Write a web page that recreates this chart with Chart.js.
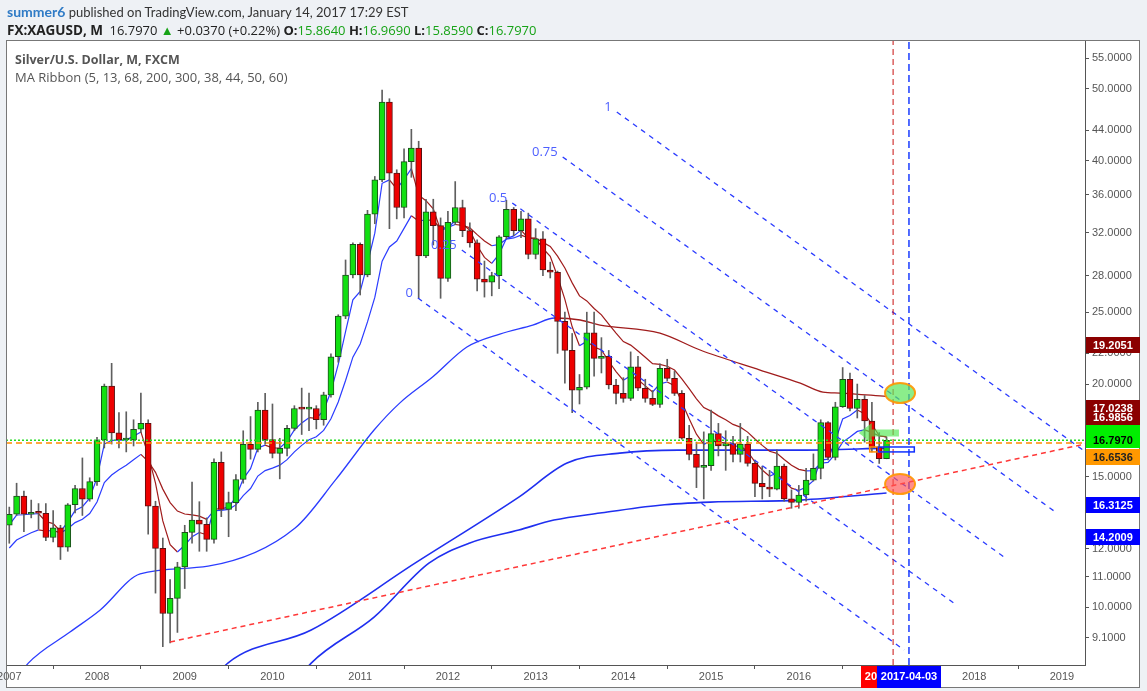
<!DOCTYPE html>
<html>
<head>
<meta charset="utf-8">
<title>XAGUSD monthly</title>
<script src="https://cdn.jsdelivr.net/npm/chart.js@4.4.1/dist/chart.umd.min.js"></script>
<style>
  html, body { margin: 0; padding: 0; background: #eef1f5; }
  #wrap { position: relative; width: 1147px; height: 691px; overflow: hidden; }
  #chart { position: absolute; left: 0; top: 0; }
  .txt { position: absolute; white-space: nowrap; font-family: 'Open Sans', Arial, sans-serif; }
  #line1 { left: 7px; top: 3px; font-size: 13px; color: #333; font-family: Lato, 'Open Sans', sans-serif; }
  #line2 { left: 7px; top: 21px; font-size: 13px; color: #222; }
  #legend1 { left: 15px; top: 51px; font-size: 12.5px; color: #555; font-weight: bold; }
  #legend2 { left: 15px; top: 68px; font-size: 13px; color: #555; }
  .user { color: #2f7bc6; font-weight: bold; font-size: 14px; }
  .sym { font-weight: bold; font-size: 13.5px; margin-right: 3px; }
  .up { color: #17a317; }
</style>
</head>
<body>
<div id="wrap">
  <canvas id="chart" width="1147" height="691"></canvas>
  <div class="txt" id="line1"><span class="user">summer6</span> published on TradingView.com, January 14, 2017 17:29 EST</div>
  <div class="txt" id="line2"><span class="sym">FX:XAGUSD, M</span> 16.7970 <span class="up">&#9650;</span> +0.0370 (+0.22%) <b>O:</b><span class="up">15.8640</span> <b>H:</b><span class="up">16.9690</span> <b>L:</b><span class="up">15.8590</span> <b>C:</b><span class="up">16.7970</span></div>
  <div class="txt" id="legend1">Silver/U.S. Dollar, M, FXCM</div>
  <div class="txt" id="legend2">MA Ribbon (5, 13, 68, 200, 300, 38, 44, 50, 60)</div>
</div>
<script>
// monthly candles, index 0 = Jan 2007
const firstYear = 2007;

const opens = [
  12.90, 13.35, 14.12, 13.35, 13.42, 13.39, 12.42, 12.80, 12.05, 13.75, 14.46, 13.99,
  14.77, 16.81, 19.88, 17.19, 16.81, 16.81, 17.38, 17.70, 13.69, 12.01, 9.81, 10.28,
  11.34, 12.62, 13.11, 12.94, 12.35, 15.68, 13.55, 13.84, 14.87, 16.58, 16.33, 18.45,
  16.83, 16.13, 16.38, 17.43, 18.54, 18.50, 18.54, 17.90, 19.34, 21.77, 24.70, 28.06,
  30.86, 28.06, 33.90, 37.70, 48.00, 38.50, 34.60, 39.90, 41.60, 29.76, 34.15, 32.70,
  27.77, 33.04, 34.60, 32.20, 31.00, 27.70, 27.45, 28.00, 31.60, 34.40, 32.20, 33.40,
  29.90, 31.40, 28.50, 28.30, 24.30, 22.20, 19.63, 19.80, 23.45, 21.66, 21.80, 19.94,
  19.43, 19.13, 21.10, 19.74, 19.13, 18.77, 21.00, 20.36, 19.43, 16.90, 16.08, 15.44,
  15.52, 17.15, 16.51, 16.62, 16.08, 16.60, 15.63, 14.69, 14.53, 14.43, 15.50, 14.00,
  13.85, 14.17, 14.84, 15.39, 17.74, 15.93, 18.64, 20.29, 18.54, 19.07, 17.83, 16.43,
  15.864
];
const highs = [
  13.65, 14.70, 14.35, 13.95, 13.80, 13.80, 13.50, 12.90, 13.80, 14.60, 15.90, 14.95,
  16.95, 20.00, 21.33, 18.30, 18.35, 17.90, 19.45, 17.90, 13.90, 12.40, 10.90, 11.50,
  12.90, 14.75, 13.88, 13.20, 15.85, 16.20, 14.30, 15.10, 17.30, 18.08, 18.90, 19.43,
  18.80, 16.90, 17.60, 18.70, 19.75, 19.45, 18.70, 19.50, 21.97, 24.80, 29.40, 31.00,
  31.00, 34.30, 38.10, 49.80, 48.50, 38.90, 41.50, 44.10, 42.50, 35.50, 35.50, 33.50,
  34.20, 37.50, 35.40, 33.00, 31.30, 29.30, 28.30, 31.70, 35.40, 34.60, 34.20, 34.00,
  32.40, 32.10, 29.20, 28.40, 25.00, 23.40, 20.60, 25.00, 25.00, 23.10, 22.20, 20.30,
  20.40, 22.10, 21.80, 20.30, 19.60, 21.30, 21.60, 20.80, 19.60, 17.60, 16.70, 17.24,
  18.45, 17.70, 17.30, 17.00, 17.70, 17.00, 15.80, 15.50, 15.30, 16.30, 15.60, 14.40,
  14.60, 15.40, 16.10, 17.90, 17.80, 18.90, 21.05, 20.70, 20.00, 19.30, 18.90, 17.20,
  16.969
];
const lows = [
  12.20, 13.30, 12.65, 13.20, 12.75, 12.30, 12.25, 11.60, 11.90, 13.40, 13.30, 13.90,
  14.60, 16.40, 16.60, 16.40, 16.20, 16.50, 17.20, 12.55, 10.45, 8.85, 8.95, 9.25,
  10.60, 12.20, 11.90, 11.90, 12.20, 13.25, 12.45, 13.50, 14.70, 15.84, 16.20, 16.60,
  15.90, 14.90, 16.00, 17.30, 17.10, 17.30, 17.40, 17.60, 19.20, 21.40, 24.50, 27.80,
  26.37, 27.90, 32.90, 37.50, 32.40, 33.40, 33.50, 38.00, 26.10, 29.60, 30.80, 26.10,
  27.50, 32.80, 31.60, 30.60, 26.70, 26.20, 26.30, 26.90, 31.40, 31.70, 31.50, 29.50,
  29.50, 28.00, 27.80, 22.00, 20.05, 18.30, 18.80, 19.70, 20.50, 20.70, 19.70, 18.80,
  18.90, 19.00, 19.60, 18.90, 18.70, 18.60, 20.20, 19.30, 16.85, 15.80, 14.50, 14.00,
  15.30, 16.00, 15.30, 15.70, 15.70, 15.50, 14.10, 14.00, 14.10, 14.40, 13.90, 13.60,
  13.60, 13.90, 14.80, 14.90, 15.80, 15.80, 18.60, 18.40, 18.00, 16.70, 16.20, 15.63,
  15.859
];
const closes = [
  13.35, 14.12, 13.35, 13.42, 13.39, 12.42, 12.80, 12.05, 13.75, 14.46, 13.99, 14.77,
  16.81, 19.88, 17.19, 16.81, 16.85, 17.38, 17.70, 13.69, 12.01, 9.81, 10.28, 11.34,
  12.62, 13.11, 12.94, 12.35, 15.68, 13.55, 13.84, 14.87, 16.58, 16.33, 18.45, 16.83,
  16.13, 16.38, 17.43, 18.54, 18.50, 18.60, 17.90, 19.34, 21.77, 24.70, 28.06, 30.86,
  28.06, 33.90, 37.70, 48.00, 38.50, 34.60, 39.90, 41.60, 29.76, 34.15, 32.70, 27.77,
  33.04, 34.60, 32.20, 31.00, 27.70, 27.45, 28.00, 31.60, 34.40, 32.20, 33.40, 29.90,
  31.40, 28.50, 28.30, 24.30, 22.20, 19.63, 19.80, 23.45, 21.66, 21.80, 19.94, 19.43,
  19.13, 21.10, 19.74, 19.13, 18.77, 21.00, 20.36, 19.43, 16.90, 16.08, 15.44, 15.52,
  17.15, 16.51, 16.62, 16.08, 16.60, 15.63, 14.69, 14.53, 14.43, 15.50, 14.00, 13.85,
  14.17, 14.84, 15.39, 17.74, 15.93, 18.64, 20.29, 18.54, 19.07, 17.83, 16.43, 15.86,
  16.797
];

// ribbon starting levels read at the left edge
const fastSeed = 12.7;
const slowSeed = 11.8;

// slower ribbon lines (month index, price)
const ribbonMonths = [1.7, 2.6, 8.3, 12.4, 17.9, 27.2, 39.1, 44.6, 49.9, 53.4, 57.9, 62.6, 67.1, 71.6, 74.6, 78.1, 80.8, 89.0, 94.5, 102.7, 108.2, 111.3, 113.6, 120];
const ribbonValues = [8.18, 8.41, 9.26, 9.91, 11.09, 11.36, 12.79, 14.84, 17.34, 18.85, 20.44, 22.44, 23.36, 24.02, 24.55, 24.40, 24.02, 23.43, 22.23, 20.89, 20.06, 19.51, 19.45, 19.25];
const ma68Months = [26.8, 29.9, 41.3, 55.5, 69.7, 76.3, 83.5, 91.5, 108.2, 120];
const ma68Values = [7.73, 8.41, 9.32, 11.47, 14.08, 15.65, 16.14, 16.29, 16.29, 16.39];
const ma200Months = [38.4, 41.3, 49.9, 57.4, 63.0, 69.7, 74.5, 80.8, 89.0, 95.9, 108.2, 120];
const ma200Values = [7.73, 8.41, 9.70, 11.47, 12.21, 12.71, 13.11, 13.40, 13.73, 13.86, 13.95, 14.26];

// drawings
const fibLevels = ['0', '0.25', '0.5', '0.75', '1'];
const fibStartMonth = [55.9, 61.9, 68.8, 75.7, 83.1];
const fibStartPrice = [26.12, 30.32, 35.09, 40.48, 46.54];
const fibEndMonth = [122.4, 129.4, 136.5, 143.3, 150.3];
const fibEndPrice = [8.76, 10.10, 11.61, 13.40, 15.40];
const trendMonths = [22.0, 149.2];
const trendPrices = [8.98, 16.77];
const markerMonths = [120.9, 123.07];
const markerDates = ['2016-12-27', '2017-04-03'];
const lastPrice = 16.797;
const supportPrice = 16.6536;
const circleMonth = 121.85;
const circlePrices = [19.45, 14.66];
const arrowMonths = [121.7, 116.2];
const arrowPrice = 17.18;
const boxMonths = [[117.7, 118.9], [118.9, 123.8]];
const boxPrices = [16.2, 16.45];

// price tags on the right scale (value shown, value where it sits)
const tagTexts = ['', '19.2051', '17.0238', '16.9856', '16.7970', '16.6536', '16.3125', '14.2009'];
const tagAt = [17.23, 22.58, 18.58, 18.05, 16.797, 15.94, 13.73, 12.44];

const yearTicks = [2007, 2008, 2009, 2010, 2011, 2012, 2013, 2014, 2015, 2016, 2017, 2018, 2019];
const priceTicks = [9.1, 10, 11, 12, 15, 20, 22, 25, 28, 32, 36, 40, 44, 50, 55];
const monthRange = [-0.45, 147.15];
const priceRange = [8.36, 58.2];

const BLUE = '#2b3cff';
const DARKRED = '#a01c1c';
const tagColors = ['#00ee00', '#8b0000', '#8b0000', '#8b0000', '#00ee00', '#ff9800', '#0000ff', '#0000ff'];
const tagInk = ['#000', '#fff', '#fff', '#fff', '#000', '#222', '#fff', '#fff'];

function ema(values, period, seed) {
  const k = 2 / (period + 1);
  let prev = seed;
  return values.map(v => (prev = prev + k * (v - prev)));
}

const idx = closes.map((c, i) => i);
const isUp = i => closes[i] >= opens[i];
const ema5 = ema(closes, 5, fastSeed);
const ema13 = ema(closes, 13, slowSeed);
const pts = (xs, ys) => xs.map((x, i) => ({ x: x, y: ys[i] }));
const trendColor = s => (s.p1.parsed.y <= s.p0.parsed.y ? DARKRED : BLUE);

function lineSet(data, color, width, dash, order) {
  return {
    type: 'line', data: data, borderColor: color, borderWidth: width,
    borderDash: dash || [], pointRadius: 0, fill: false, order: order
  };
}

const datasets = [
  // candles
  {
    type: 'bar', data: idx.map(i => ({ x: i, y: [lows[i], highs[i]] })),
    backgroundColor: '#5f5f5f', barThickness: 1, grouped: false, order: 4
  },
  {
    type: 'bar', data: idx.map(i => ({ x: i, y: [opens[i], closes[i]] })),
    backgroundColor: c => (isUp(c.dataIndex) ? '#11e011' : '#ee0000'),
    borderColor: c => (isUp(c.dataIndex) ? '#1c4d1c' : '#5a1010'),
    borderWidth: 1, borderSkipped: false, barThickness: 6, minBarLength: 2,
    grouped: false, order: 3
  },
  // MA ribbon
  Object.assign(lineSet(idx.map(i => ({ x: i, y: ema5[i] })), BLUE, 1.2, null, 6), { segment: { borderColor: trendColor } }),
  Object.assign(lineSet(idx.map(i => ({ x: i, y: ema13[i] })), BLUE, 1.2, null, 7), { segment: { borderColor: trendColor } }),
  Object.assign(lineSet(pts(ribbonMonths, ribbonValues), BLUE, 1.3, null, 8), { segment: { borderColor: trendColor }, cubicInterpolationMode: 'monotone' }),
  Object.assign(lineSet(pts(ma68Months, ma68Values), '#1f2ff0', 1.6, null, 8), { cubicInterpolationMode: 'monotone' }),
  Object.assign(lineSet(pts(ma200Months, ma200Values), '#1f2ff0', 1.6, null, 8), { cubicInterpolationMode: 'monotone' }),
  // horizontal levels
  lineSet(pts(monthRange, [lastPrice, lastPrice]), '#22dd22', 1.5, [2, 2], 2),
  lineSet(pts(monthRange, [supportPrice, supportPrice]), '#ff8c00', 1.5, [6, 4], 2),
  // trend line
  lineSet(pts(trendMonths, trendPrices), '#ff3838', 1.5, [5, 4], 1),
  // vertical markers
  lineSet(pts([markerMonths[0], markerMonths[0]], priceRange), '#c81010', 1, [6, 4], 1),
  lineSet(pts([markerMonths[1], markerMonths[1]], priceRange), '#1a3cff', 1.5, [7, 4], 1)
];
// fib channel
fibLevels.forEach((lv, i) => {
  datasets.push(lineSet(pts([fibStartMonth[i], fibEndMonth[i]], [fibStartPrice[i], fibEndPrice[i]]), BLUE, 1.3, [5, 5], 1));
});

const panel = {
  id: 'panel',
  beforeDraw(chart) {
    const c = chart.ctx;
    c.save();
    c.fillStyle = '#ffffff';
    c.fillRect(6, 40, 1134, 648);
    c.restore();
  },
  afterDraw(chart) {
    const c = chart.ctx;
    c.save();
    c.strokeStyle = '#777';
    c.lineWidth = 1;
    c.strokeRect(6.5, 40.5, 1133, 647);
    c.restore();
  }
};

const drawings = {
  id: 'drawings',
  afterDatasetsDraw(chart) {
    const c = chart.ctx, xs = chart.scales.x, ys = chart.scales.y, a = chart.chartArea;
    c.save();
    c.beginPath();
    c.rect(a.left, a.top, a.right - a.left, a.bottom - a.top);
    c.clip();

    // fib labels
    c.font = '13px "Open Sans", Arial, sans-serif';
    c.fillStyle = '#4d5fff';
    c.textAlign = 'right';
    c.textBaseline = 'middle';
    fibLevels.forEach((lv, i) => {
      c.fillText(lv, xs.getPixelForValue(fibStartMonth[i]) - 5, ys.getPixelForValue(fibStartPrice[i]) - 5);
    });

    // boxes
    c.lineWidth = 1.5;
    ['#ff8c00', '#1030ff'].forEach((col, i) => {
      const x0 = xs.getPixelForValue(boxMonths[i][0]), x1 = xs.getPixelForValue(boxMonths[i][1]);
      const y0 = ys.getPixelForValue(boxPrices[1]), y1 = ys.getPixelForValue(boxPrices[0]);
      c.strokeStyle = col;
      c.strokeRect(x0, y0, x1 - x0, y1 - y0);
    });

    // arrow
    const tip = xs.getPixelForValue(arrowMonths[1]), tail = xs.getPixelForValue(arrowMonths[0]);
    const ay = ys.getPixelForValue(arrowPrice);
    c.fillStyle = 'rgba(80, 232, 80, 0.65)';
    c.beginPath();
    c.moveTo(tip, ay);
    c.lineTo(tip + 13, ay - 10);
    c.lineTo(tip + 13, ay - 3.5);
    c.lineTo(tail, ay - 3.5);
    c.lineTo(tail, ay + 3.5);
    c.lineTo(tip + 13, ay + 3.5);
    c.lineTo(tip + 13, ay + 10);
    c.closePath();
    c.fill();

    // ellipses
    const cx = xs.getPixelForValue(circleMonth);
    ['rgba(90, 230, 90, 0.7)', 'rgba(255, 80, 80, 0.65)'].forEach((f, i) => {
      c.beginPath();
      c.ellipse(cx, ys.getPixelForValue(circlePrices[i]), 15, 10, 0, 0, Math.PI * 2);
      c.fillStyle = f;
      c.fill();
      c.lineWidth = 2;
      c.strokeStyle = 'rgba(255, 150, 0, 0.9)';
      c.stroke();
    });
    c.restore();
  },
  afterDraw(chart) {
    const c = chart.ctx, xs = chart.scales.x, ys = chart.scales.y, a = chart.chartArea;
    c.save();
    c.font = 'bold 11px "Liberation Sans", Arial, sans-serif';
    c.textBaseline = 'middle';
    c.textAlign = 'left';
    const tagY = tagAt.map(v => Math.round(ys.getPixelForValue(v)));
    tagTexts.forEach((t, i) => {
      c.fillStyle = tagColors[i];
      c.fillRect(a.right + 1, tagY[i] - 8, 54, 16);
    });
    tagTexts.forEach((t, i) => {
      c.fillStyle = tagInk[i];
      c.fillText(t, a.right + 8, tagY[i] + 0.5);
    });
    c.textAlign = 'center';
    const colors = ['#ff0000', '#0000ff'];
    markerDates.forEach((d, i) => {
      const x = Math.round(xs.getPixelForValue(markerMonths[i]));
      c.fillStyle = colors[i];
      c.fillRect(x - 32, a.bottom + 1, 64, 22);
      c.fillStyle = '#fff';
      c.fillText(d, x, a.bottom + 12);
    });
    c.restore();
  }
};

new Chart(document.getElementById('chart'), {
  type: 'bar',
  data: { datasets: datasets },
  options: {
    responsive: false,
    animation: false,
    devicePixelRatio: 1,
    layout: { padding: { left: 6, top: 40, right: 7, bottom: 3 } },
    plugins: { legend: { display: false }, tooltip: { enabled: false } },
    scales: {
      x: {
        type: 'linear', min: monthRange[0], max: monthRange[1], offset: false,
        grid: { drawOnChartArea: false, drawTicks: true, tickLength: 4, color: '#555' },
        border: { color: '#555' },
        ticks: {
          autoSkip: false, maxRotation: 0, padding: 1, color: '#555',
          font: { family: '"Liberation Sans", Arial, sans-serif', size: 11 },
          callback: v => String(firstYear + Math.round(v / 12))
        },
        afterBuildTicks: s => { s.ticks = yearTicks.map(y => ({ value: (y - firstYear) * 12 })); },
        afterFit: s => { s.height = 23; s.paddingLeft = 0; s.paddingRight = 0; }
      },
      y: {
        type: 'logarithmic', position: 'right', min: priceRange[0], max: priceRange[1],
        grid: { drawOnChartArea: false, drawTicks: true, tickLength: 4, color: '#555' },
        border: { color: '#555' },
        ticks: {
          autoSkip: false, padding: 3, color: '#555',
          font: { family: '"Liberation Sans", Arial, sans-serif', size: 11 },
          callback: v => Number(v).toFixed(4)
        },
        afterBuildTicks: s => { s.ticks = priceTicks.map(v => ({ value: v })); },
        afterFit: s => { s.width = 55; s.paddingTop = 0; s.paddingBottom = 0; }
      }
    }
  },
  plugins: [panel, drawings]
});
</script>
</body>
</html>
